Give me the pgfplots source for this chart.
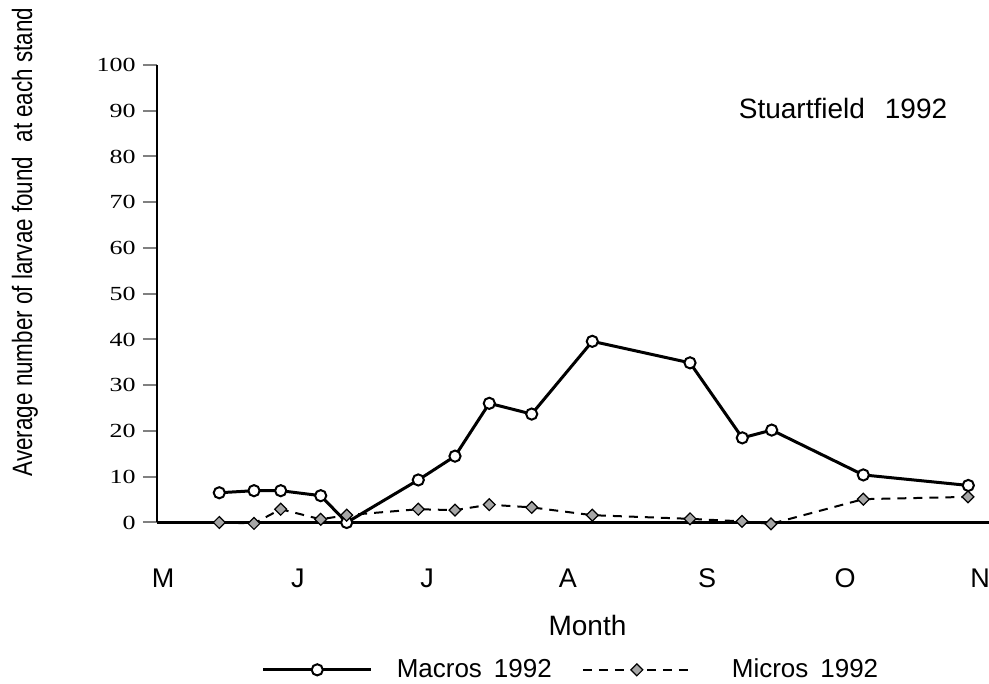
\documentclass[border=0pt]{standalone}
\usepackage{fontspec}
\setmainfont{Liberation Sans}
\newfontfamily\tickfont{Liberation Serif}[FakeStretch=1.3]
\usepackage{graphicx}
\usepackage{pgfplots}
\pgfplotsset{compat=1.18}
\begin{document}
\begin{tikzpicture}
\begin{axis}[
  scale only axis,
  width=416.5pt, height=228.75pt,
  xmin=157, xmax=990, ymin=0, ymax=100,
  axis x line=bottom, axis y line=left,
  x axis line style={-, line width=1.5pt},
  y axis line style={-, line width=1pt},
  clip=false,
  xtick={163,298,427,568,707,845,980},
  xticklabels={M,J,J,A,S,O,N},
  major x tick style={draw=none},
  x tick label style={anchor=center, yshift=-21pt, font=\fontsize{13.5}{15}\selectfont},
  ytick={0,10,...,100},
  y tick label style={anchor=east, xshift=-3.5pt, inner sep=0pt, font=\tickfont\fontsize{10}{12}\selectfont},
  /pgf/number format/assume math mode=true,
  tick align=outside,
  major tick length=7pt,
  major y tick style={line width=1pt},
  xlabel={Month},
  xlabel style={at={(axis description cs:0.5168,0)}, anchor=center, yshift=-51.5pt, font=\fontsize{14}{16}\selectfont},
  ylabel={\scalebox{0.8}[1]{Average number of larvae found\hspace{5pt} at each stand}},
  ylabel style={at={(axis description cs:-0.1585,0.613)}, anchor=center, rotate=0, font=\fontsize{14}{16}\selectfont},
  legend columns=2,
  legend style={at={(axis cs:572,0)}, anchor=north, yshift=-64pt, draw=none, fill=none,
    font=\fontsize{13}{15}\selectfont,
    /tikz/every even column/.append style={column sep=13pt},
    /tikz/every odd column/.append style={column sep=10pt}},
  legend image code/.code={\draw[mark repeat=2,mark phase=2,#1] plot coordinates {(0pt,0pt) (27pt,0pt) (54pt,0pt)};},
]
\addplot[black, line width=1.5pt, mark=*, mark size=2.8pt, mark options={fill=white, draw=black, line width=1pt, solid}]
coordinates {
(219.3,6.5) (254,6.95) (280.7,6.95) (320.7,5.86) (346.7,0) (418.3,9.3) (455,14.5) (489.3,26.05) (531.7,23.7) (592.3,39.6) (690,34.9) (742.3,18.5) (771.7,20.2) (863.3,10.4) (968.3,8.1)
};
\addlegendentry{Macros\hspace{6pt}1992}
\addplot[black, line width=1pt, dash pattern=on 4.5pt off 3.5pt, mark=square*, mark size=2.1pt, mark options={rotate=45, fill=gray!70, draw=black, line width=0.6pt, solid}]
coordinates {
(219.3,0) (254,-0.2) (280.7,2.9) (320.7,0.7) (346.7,1.6) (418.3,2.9) (455,2.7) (489.3,3.9) (531.7,3.3) (592.3,1.6) (690,0.8) (742,0.25) (771,-0.3) (863.3,5.1) (968,5.6)
};
\addlegendentry{\hspace{8pt}Micros\hspace{6pt}1992}
\node[font=\fontsize{14}{16}\selectfont] at (axis cs:843,90.6) {Stuartfield\hspace{10pt}1992};
\end{axis}
\pgfresetboundingbox
\path (-78.5pt,-80.75pt) rectangle (416pt,261.25pt);
\end{tikzpicture}
\end{document}
